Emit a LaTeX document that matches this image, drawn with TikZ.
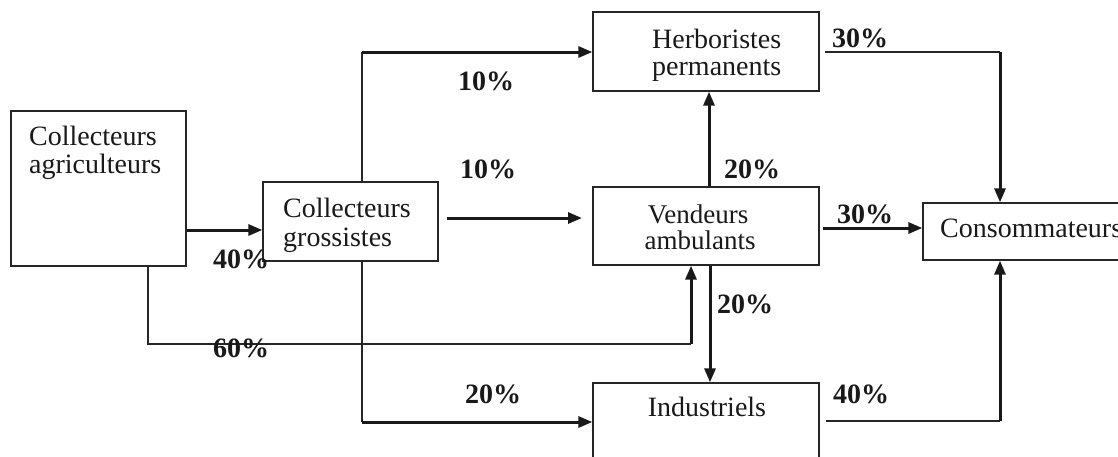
\documentclass[tikz,border=0pt]{standalone}
\usepackage{fontspec}
\setmainfont{Liberation Serif}
\usetikzlibrary{arrows.meta,calc}
\begin{document}
\begin{tikzpicture}[x=1pt,y=-1pt,
  box/.style={draw=black!85, line width=1.3pt, inner sep=0pt},
  txt/.style={font=\fontsize{28}{27}\selectfont, inner sep=0pt, anchor=base west, text=black!90},
  ctxt/.style={txt, anchor=base},
  pct/.style={font=\fontsize{28}{28}\selectfont\bfseries, inner sep=0pt, anchor=base west, text=black!90},
  thinline/.style={draw=black!85, line width=1.4pt},
  thickline/.style={draw=black!90, line width=3pt},
  arr/.style={-{Triangle[length=14pt,width=11pt]}}
]
\clip (0,0) rectangle (1118,456);
\fill[white] (0,0) rectangle (1118,456);

% boxes
\node[box, minimum width=175pt, minimum height=155pt] (A) at (98.5,188.5) {};
\node[box, minimum width=175pt, minimum height=79pt] (G) at (350.5,221.5) {};
\node[box, minimum width=226pt, minimum height=79pt] (H) at (706,51.5) {};
\node[box, minimum width=226pt, minimum height=78pt] (V) at (706,226) {};
\node[box, minimum width=226pt, minimum height=87pt] (I) at (706,426.5) {};
\node[box, minimum width=217pt, minimum height=57pt] (C) at (1031.5,231.5) {};

% box texts
\node[txt] (A1) at (29,145) {Collecteurs};
\node[txt] (A2) at (29,173) {agriculteurs};
\node[txt] (G1) at (283,217) {Collecteurs};
\node[txt] (G2) at (283,246) {grossistes};
\node[txt] (H1) at (652,48) {Herboristes};
\node[txt] (H2) at (652,75) {permanents};
\node[ctxt, font=\fontsize{27}{27}\selectfont] (V1) at (698,223) {Vendeurs};
\node[ctxt, font=\fontsize{27}{27}\selectfont] (V2) at (700,249) {ambulants};
\node[ctxt] (I1) at (707,416) {Industriels};
\node[txt] (C1) at (940,237) {Consommateurs};

% connectors
\coordinate (ag) at (0,230);
\draw[thickline,arr] (A.east |- ag) -- (G.west |- ag);

\coordinate (av1) at (148,344);
\coordinate (av2) at (691,344);
\draw[thinline] (A.south -| av1) -- (av1) -- (av2);
\draw[thickline,arr] (av2) -- (V.south -| av2);

\coordinate (gh) at (362,52);
\draw[thinline] (G.north -| gh) -- (gh);
\draw[thickline,arr] (gh) -- (H.west |- gh);

\coordinate (gv1) at (447,218);
\coordinate (gv2) at (582,218);
\draw[thickline,arr] (gv1) -- (gv2);

\coordinate (gi) at (362,422);
\draw[thinline] (G.south -| gi) -- (gi);
\draw[thickline,arr] (gi) -- (I.west |- gi);

\coordinate (vh) at (709,0);
\draw[thickline,arr] (V.north -| vh) -- (H.south -| vh);

\coordinate (vi) at (710,0);
\draw[thickline,arr] (V.south -| vi) -- (I.north -| vi);

\coordinate (vc) at (823,228);
\draw[thickline,arr] (vc) -- (C.west |- vc);

\coordinate (hc1) at (825,52);
\coordinate (hc2) at (1000,52);
\draw[thinline] (hc1) -- (hc2);
\draw[thickline,arr] (hc2) -- (C.north -| hc2);

\coordinate (ic1) at (826,421);
\coordinate (ic2) at (1000,421);
\draw[thinline, line width=2pt] (ic1) -- (ic2);
\draw[thickline,arr] (ic2) -- (C.south -| ic2);

% percentages
\node[pct] (p40a) at (213,268) {40\%};
\node[pct] (p60) at (213,357) {60\%};
\node[pct] (p10a) at (458,90) {10\%};
\node[pct] (p10b) at (460,178) {10\%};
\node[pct] (p20a) at (724,178) {20\%};
\node[pct] (p30a) at (832,47) {30\%};
\node[pct] (p30b) at (837,223) {30\%};
\node[pct] (p20b) at (717,313) {20\%};
\node[pct] (p20c) at (465,403) {20\%};
\node[pct] (p40b) at (833,403) {40\%};
\end{tikzpicture}
\end{document}
